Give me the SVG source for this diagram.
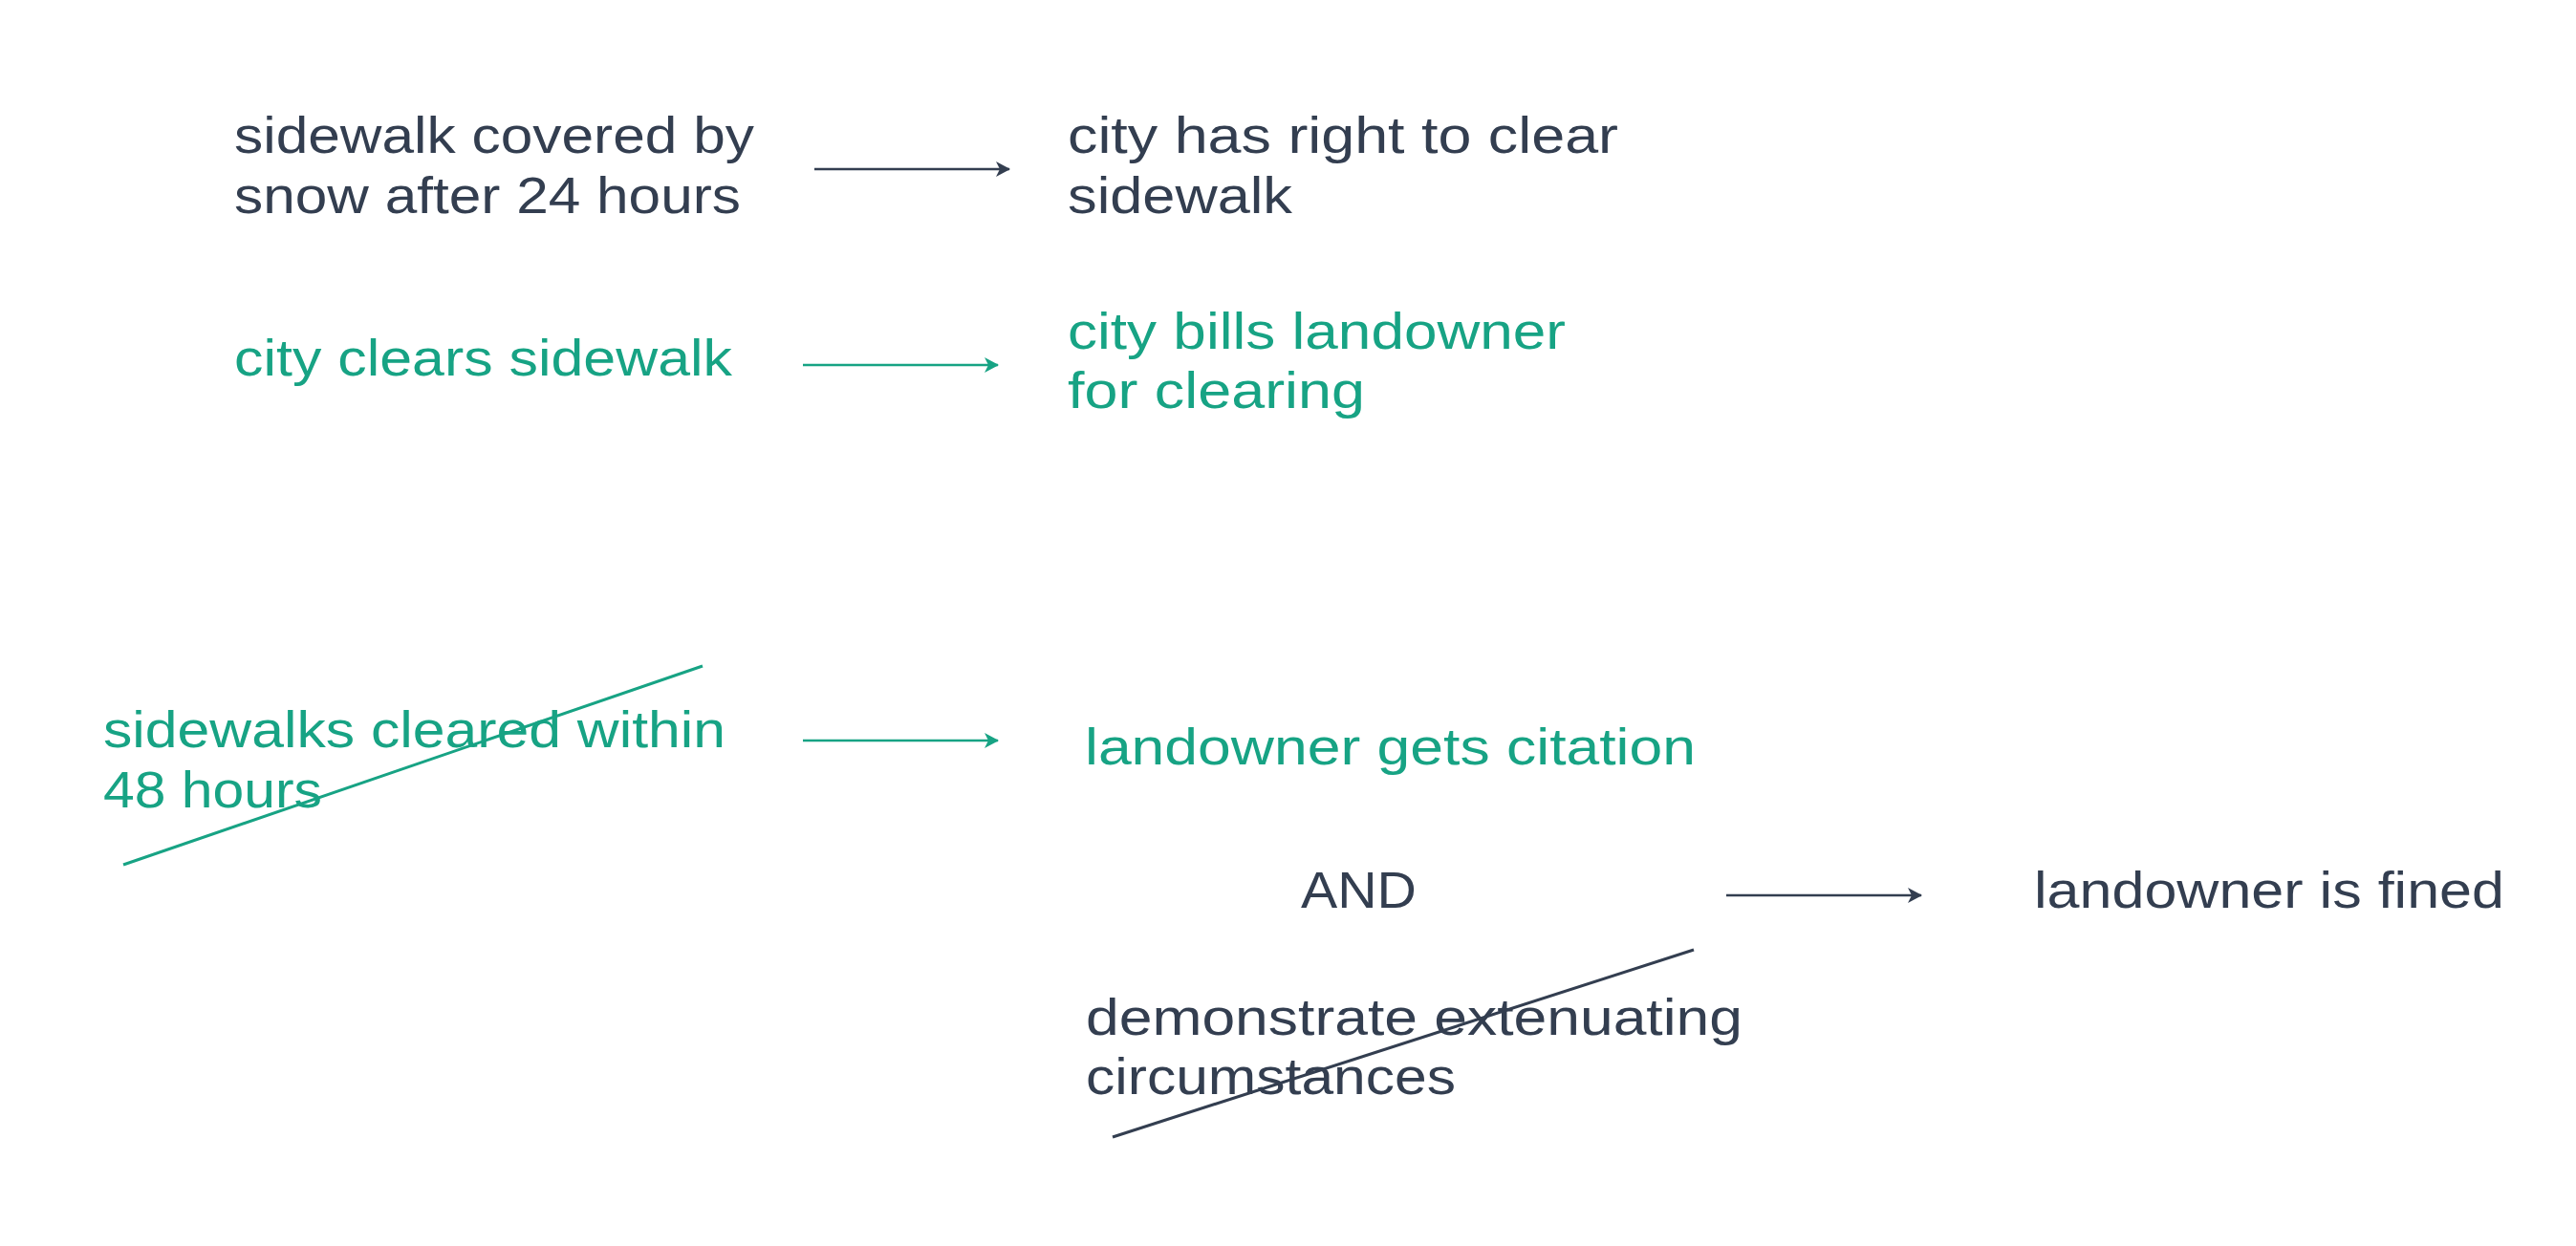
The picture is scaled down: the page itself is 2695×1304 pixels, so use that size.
<svg xmlns="http://www.w3.org/2000/svg" width="2695" height="1304" viewBox="0 0 2695 1304">
<defs>
<style>
text{font-family:"Liberation Sans",Arial,sans-serif;font-size:53px}
.d{fill:#333e50}
.g{fill:#17a384}
.ld{stroke:#333e50;stroke-width:2.5;fill:none}
.lg{stroke:#17a384;stroke-width:2.5;fill:none}
.sd{stroke:#333e50;stroke-width:3;fill:none}
.sg{stroke:#17a384;stroke-width:3;fill:none}
</style>
<marker id="ad" markerUnits="userSpaceOnUse" markerWidth="20" markerHeight="20" refX="17" refY="10" orient="auto"><path d="M3,2 L18,10 L3,18 L7,10 z" fill="#333e50"/></marker>
<marker id="ag" markerUnits="userSpaceOnUse" markerWidth="20" markerHeight="20" refX="17" refY="10" orient="auto"><path d="M3,2 L18,10 L3,18 L7,10 z" fill="#17a384"/></marker>
</defs>
<rect width="2695" height="1304" fill="#ffffff"/>
<g id="n1"><text class="d"><tspan x="245" y="160" textLength="544" lengthAdjust="spacingAndGlyphs">sidewalk covered by</tspan><tspan x="245" y="223" textLength="530" lengthAdjust="spacingAndGlyphs">snow after 24 hours</tspan></text></g>
<g id="n2"><text class="d"><tspan x="1117" y="160" textLength="576" lengthAdjust="spacingAndGlyphs">city has right to clear</tspan><tspan x="1117" y="223" textLength="235" lengthAdjust="spacingAndGlyphs">sidewalk</tspan></text></g>
<g id="n3"><text class="g" x="245" y="393" textLength="521" lengthAdjust="spacingAndGlyphs">city clears sidewalk</text></g>
<g id="n4"><text class="g"><tspan x="1117" y="365" textLength="521" lengthAdjust="spacingAndGlyphs">city bills landowner</tspan><tspan x="1117" y="427" textLength="311" lengthAdjust="spacingAndGlyphs">for clearing</tspan></text></g>
<g id="n5"><text class="g"><tspan x="108" y="782" textLength="651" lengthAdjust="spacingAndGlyphs">sidewalks cleared within</tspan><tspan x="108" y="845" textLength="229" lengthAdjust="spacingAndGlyphs">48 hours</tspan></text><line class="sg" x1="129" y1="905" x2="735" y2="697"/></g>
<g id="n6"><text class="g" x="1135" y="800" textLength="639" lengthAdjust="spacingAndGlyphs">landowner gets citation</text></g>
<g id="n7"><text class="d" x="1361" y="950" textLength="121" lengthAdjust="spacingAndGlyphs">AND</text></g>
<g id="n8"><text class="d" x="2128" y="950" textLength="492" lengthAdjust="spacingAndGlyphs">landowner is fined</text></g>
<g id="n9"><text class="d"><tspan x="1136" y="1083" textLength="687" lengthAdjust="spacingAndGlyphs">demonstrate extenuating</tspan><tspan x="1136" y="1145" textLength="387" lengthAdjust="spacingAndGlyphs">circumstances</tspan></text><line class="sd" x1="1164" y1="1190" x2="1772" y2="994"/></g>
<g id="connectors">
<line class="ld" x1="852" y1="177" x2="1056" y2="177" marker-end="url(#ad)"/>
<line class="lg" x1="840" y1="382" x2="1044" y2="382" marker-end="url(#ag)"/>
<line class="lg" x1="840" y1="775" x2="1044" y2="775" marker-end="url(#ag)"/>
<line class="ld" x1="1806" y1="937" x2="2010" y2="937" marker-end="url(#ad)"/>
</g>
</svg>
